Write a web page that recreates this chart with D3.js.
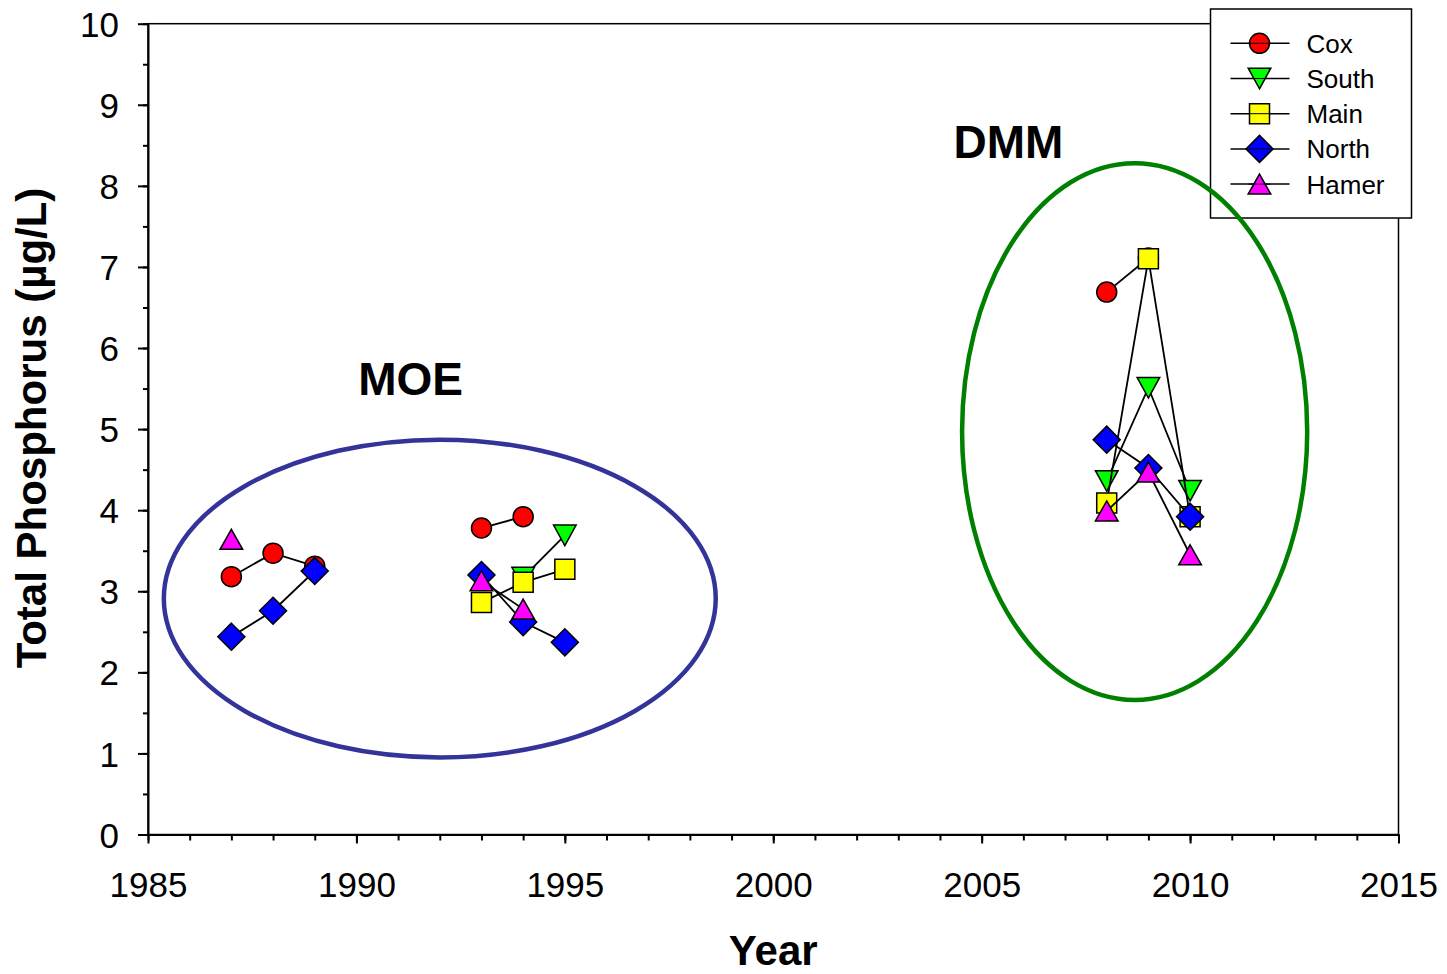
<!DOCTYPE html>
<html>
<head>
<meta charset="utf-8">
<script src="https://cdn.jsdelivr.net/npm/d3@7"></script>
<style>
  body { margin: 0; background: #fff; }
  svg text { font-family: "Liberation Sans", Arial, sans-serif; fill: #000; }
</style>
</head>
<body>
<div id="chart"></div>
<script>
// Data
const years = [1987, 1988, 1989, 1993, 1994, 1995, 2008, 2009, 2010];
const cox   = [3.18, 3.47, 3.31, 3.78, 3.92, null, 6.69, 7.11, null];
const south = [null, null, null, null, 3.17, 3.69, 4.36, 5.51, 4.24];
const main  = [null, null, null, 2.86, 3.11, 3.27, 4.09, 7.10, 3.92];
const north = [2.44, 2.76, 3.25, 3.20, 2.62, 2.37, 4.87, 4.52, 3.92];
const hamer = [3.64, null, null, 3.13, 2.78, null, 3.99, 4.47, 3.45];

const seriesNames  = ["Cox", "South", "Main", "North", "Hamer"];
const seriesValues = [cox, south, main, north, hamer];
const seriesColors = ["#ff0000", "#00ff00", "#ffff00", "#0000ff", "#ff00ff"];
const seriesShapes = ["circle", "triangleDown", "square", "diamond", "triangleUp"];

const xTicks = [1985, 1990, 1995, 2000, 2005, 2010, 2015];
const yTicks = [0, 1, 2, 3, 4, 5, 6, 7, 8, 9, 10];

// Group annotations (centre and radii in data units)
const zoneLabels = ["MOE", "DMM"];
const zoneCx = [1992.0, 2008.67];
const zoneCy = [2.91, 4.97];
const zoneRx = [6.62, 4.14];
const zoneRy = [1.96, 3.31];
const zoneColors = ["#333399", "#008000"];
const zoneLabelX = [1991.3, 2005.64];
const zoneLabelY = [5.42, 8.34];

const width = 1447, height = 974;
const margin = { top: 23.7, right: 48.5, bottom: 139.5, left: 148 };

const svg = d3.select("#chart").append("svg")
    .attr("width", width)
    .attr("height", height);

const x = d3.scaleLinear().domain([1985, 2015]).range([margin.left, width - margin.right]);
const y = d3.scaleLinear().domain([0, 10]).range([height - margin.bottom, margin.top]);

// frame (top and right sides)
svg.append("rect")
    .attr("x", x(1985)).attr("y", y(10))
    .attr("width", x(2015) - x(1985)).attr("height", y(0) - y(10))
    .attr("fill", "none").attr("stroke", "#000").attr("stroke-width", 1.5);

// x axis: minor ticks every year, major with labels every 5
svg.append("g")
    .attr("transform", `translate(0,${y(0)})`)
    .call(d3.axisBottom(x).tickValues(d3.range(1985, 2016)).tickSize(6).tickSizeOuter(0).tickFormat(""))
    .call(g => g.selectAll("line").attr("stroke-width", 2))
    .call(g => g.select(".domain").attr("stroke-width", 2));

svg.append("g")
    .attr("transform", `translate(0,${y(0)})`)
    .call(d3.axisBottom(x).tickValues(xTicks).tickSize(9).tickSizeOuter(0).tickFormat(d3.format("d")))
    .call(g => g.select(".domain").remove())
    .call(g => g.selectAll("line").attr("stroke-width", 2))
    .call(g => g.selectAll("text")
        .attr("y", 62).attr("dy", null)
        .style("font-size", "35px")
        .style("font-family", "'Liberation Sans', Arial, sans-serif"));

// y axis: minor at half units, major with labels
svg.append("g")
    .attr("transform", `translate(${x(1985)},0)`)
    .call(d3.axisLeft(y).tickValues(d3.range(0, 10.01, 0.5)).tickSize(5).tickSizeOuter(0).tickFormat(""))
    .call(g => g.selectAll("line").attr("stroke-width", 2))
    .call(g => g.select(".domain").attr("stroke-width", 2));

svg.append("g")
    .attr("transform", `translate(${x(1985)},0)`)
    .call(d3.axisLeft(y).tickValues(yTicks).tickSize(10).tickSizeOuter(0).tickFormat(d3.format("d")))
    .call(g => g.select(".domain").remove())
    .call(g => g.selectAll("line").attr("stroke-width", 2))
    .call(g => g.selectAll("text")
        .attr("x", -29).attr("dy", "0.36em")
        .style("font-size", "35px")
        .style("font-family", "'Liberation Sans', Arial, sans-serif"));

// axis titles
svg.append("text")
    .attr("x", (x(1985) + x(2015)) / 2)
    .attr("y", 965)
    .attr("text-anchor", "middle")
    .style("font-size", "42px").style("font-weight", "bold")
    .text("Year");

svg.append("text")
    .attr("transform", "rotate(-90)")
    .attr("x", -428)
    .attr("y", 46)
    .attr("text-anchor", "middle")
    .style("font-size", "42px").style("font-weight", "bold")
    .text("Total Phosphorus (µg/L)");

// marker shapes, centred on (0,0)
function markerPath(shape) {
    switch (shape) {
        case "circle": return "M10,0A10,10 0 1,1 -10,0A10,10 0 1,1 10,0Z";
        case "square": return "M-10,-10H10V10H-10Z";
        case "diamond": return "M0,-13.5L13.5,0L0,13.5L-13.5,0Z";
        case "triangleUp": return "M0,-10L11.3,10L-11.3,10Z";
        case "triangleDown": return "M0,10.3L11.3,-10.3L-11.3,-10.3Z";
    }
}

const line = d3.line().x(d => x(d.year)).y(d => y(d.value));

seriesNames.forEach((name, i) => {
    const pts = years.map((yr, j) => ({ year: yr, value: seriesValues[i][j] }))
        .filter(d => d.value !== null);

    // break the line where a year is missing
    const segments = [];
    pts.forEach((p, j) => {
        if (j > 0 && p.year - pts[j - 1].year === 1) segments[segments.length - 1].push(p);
        else segments.push([p]);
    });

    const g = svg.append("g").attr("class", "series");
    g.selectAll("path.line")
        .data(segments.filter(s => s.length > 1))
        .enter().append("path")
        .attr("class", "line")
        .attr("d", line)
        .attr("fill", "none")
        .attr("stroke", "#000")
        .attr("stroke-width", 1.8);

    g.selectAll("path.marker")
        .data(pts)
        .enter().append("path")
        .attr("class", "marker")
        .attr("transform", d => `translate(${x(d.year)},${y(d.value)})`)
        .attr("d", markerPath(seriesShapes[i]))
        .attr("fill", seriesColors[i])
        .attr("stroke", "#000")
        .attr("stroke-width", 1.5);
});

// legend
const legendX = 1210.5, legendY = 9;
const legend = svg.append("g");
legend.append("rect")
    .attr("x", legendX).attr("y", legendY)
    .attr("width", 201).attr("height", 209)
    .attr("fill", "#fff").attr("stroke", "#000").attr("stroke-width", 1.5);

const items = legend.selectAll("g.item")
    .data(seriesNames)
    .enter().append("g")
    .attr("class", "item")
    .attr("transform", (d, i) => `translate(${legendX + 49},${legendY + 34.3 + i * 35.2})`);

items.append("line")
    .attr("x1", -29).attr("x2", 30)
    .attr("stroke", "#000").attr("stroke-width", 1.5);

items.append("path")
    .attr("d", (d, i) => markerPath(seriesShapes[i]))
    .attr("fill", (d, i) => seriesColors[i])
    .attr("stroke", "#000").attr("stroke-width", 1.5);

items.append("line")
    .attr("x1", -11).attr("x2", 11)
    .attr("stroke", "#000").attr("stroke-width", 1);

items.append("text")
    .attr("x", 47).attr("y", 9.5)
    .style("font-size", "26px")
    .text(d => d);

// group ellipses and labels
zoneLabels.forEach((lab, i) => {
    svg.append("ellipse")
        .attr("cx", x(zoneCx[i]))
        .attr("cy", y(zoneCy[i]))
        .attr("rx", x(zoneCx[i] + zoneRx[i]) - x(zoneCx[i]))
        .attr("ry", y(zoneCy[i] - zoneRy[i]) - y(zoneCy[i]))
        .attr("fill", "none")
        .attr("stroke", zoneColors[i])
        .attr("stroke-width", 4.5);

    svg.append("text")
        .attr("x", x(zoneLabelX[i]))
        .attr("y", y(zoneLabelY[i]))
        .attr("text-anchor", "middle")
        .style("font-size", "46px").style("font-weight", "bold")
        .text(lab);
});
</script>
</body>
</html>
